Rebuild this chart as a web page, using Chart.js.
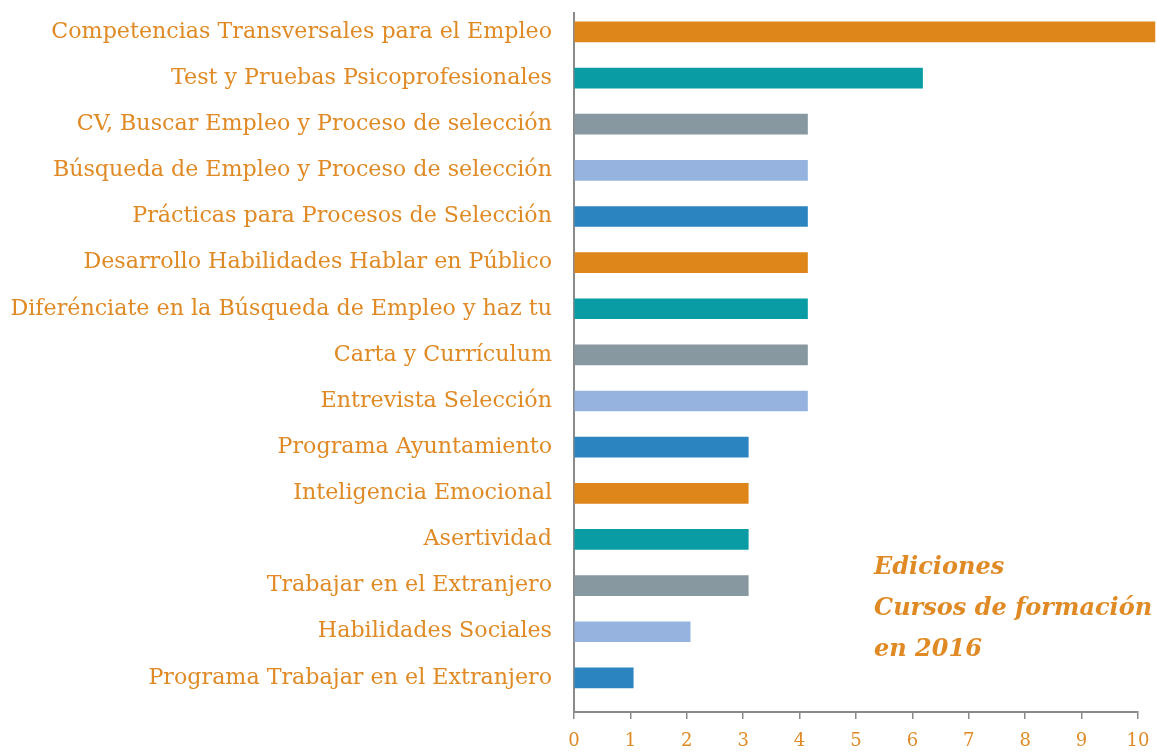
<!DOCTYPE html>
<html>
<head>
<meta charset="utf-8">
<script src="https://cdn.jsdelivr.net/npm/chart.js@4"></script>
<style>
  html, body { margin: 0; padding: 0; background: #fff; }
  #wrap { width: 1157px; height: 752px; }
</style>
</head>
<body>
<div id="wrap"><canvas id="c" width="1157" height="752"></canvas></div>
<script>
// courses, top to bottom
const categories = [
  'Competencias Transversales para el Empleo',
  'Test y Pruebas Psicoprofesionales',
  'CV, Buscar Empleo y Proceso de selección',
  'Búsqueda de Empleo y Proceso de selección',
  'Prácticas para Procesos de Selección',
  'Desarrollo Habilidades Hablar en Público',
  'Diferénciate en la Búsqueda de Empleo y haz tu',
  'Carta y Currículum',
  'Entrevista Selección',
  'Programa Ayuntamiento',
  'Inteligencia Emocional',
  'Asertividad',
  'Trabajar en el Extranjero',
  'Habilidades Sociales',
  'Programa Trabajar en el Extranjero'
];
// editions
const ediciones = [10.3, 6.18, 4.14, 4.14, 4.14, 4.14, 4.14, 4.14, 4.14, 3.09, 3.09, 3.09, 3.09, 2.06, 1.05];
const xTicks = [0, 1, 2, 3, 4, 5, 6, 7, 8, 9, 10];
const titleLines = ['Ediciones', 'Cursos de formación', 'en 2016'];

const palette = ['#DE861A', '#0A9CA4', '#8898A0', '#95B3DE', '#2B84C0'];
const orange = '#E08A25';
const axisGrey = '#8a8a8a';
const labelFont = 'DejaVu Serif';

const points = ediciones.map((v, i) => ({ x: v, y: i }));

// title text inside the plot
const notePlugin = {
  id: 'note',
  afterDraw(chart) {
    const ctx = chart.ctx;
    const xs = chart.scales.x;
    ctx.save();
    ctx.fillStyle = orange;
    ctx.font = 'italic bold 24px "' + labelFont + '"';
    ctx.textBaseline = 'alphabetic';
    ctx.textAlign = 'left';
    const left = xs.getPixelForValue(5.32);
    titleLines.forEach((t, i) => ctx.fillText(t, left, 574 + i * 41));
    ctx.restore();
  }
};

new Chart(document.getElementById('c'), {
  type: 'bar',
  data: {
    datasets: [{
      data: points,
      backgroundColor: points.map((p, i) => palette[i % palette.length]),
      barThickness: 20,
      clip: false
    }]
  },
  options: {
    indexAxis: 'y',
    responsive: false,
    animation: false,
    layout: { padding: { top: 13, right: 19, left: 0, bottom: 0 } },
    plugins: { legend: { display: false }, tooltip: { enabled: false } },
    scales: {
      x: {
        type: 'linear',
        min: 0,
        max: 10,
        afterBuildTicks: s => { s.ticks = xTicks.map(v => ({ value: v })); },
        afterFit: s => { s.height = 40; s.paddingLeft = 0; s.paddingRight = 0; },
        grid: { drawOnChartArea: false, color: axisGrey, tickLength: 7, lineWidth: 1.5 },
        border: { color: axisGrey, width: 2 },
        ticks: { color: orange, font: { family: labelFont, size: 18 }, padding: 12 }
      },
      y: {
        type: 'linear',
        reverse: true,
        offset: false,
        min: -0.41,
        max: 14.74,
        afterBuildTicks: s => { s.ticks = categories.map((c, i) => ({ value: i })); },
        afterFit: s => { s.width = 574; s.paddingTop = 0; s.paddingBottom = 0; },
        grid: { display: false, drawTicks: false, offset: false },
        border: { color: axisGrey, width: 2 },
        ticks: {
          autoSkip: false,
          color: orange,
          font: { family: labelFont, size: 22.2 },
          padding: 22,
          callback: v => categories[v]
        }
      }
    }
  },
  plugins: [notePlugin]
});
</script>
</body>
</html>
